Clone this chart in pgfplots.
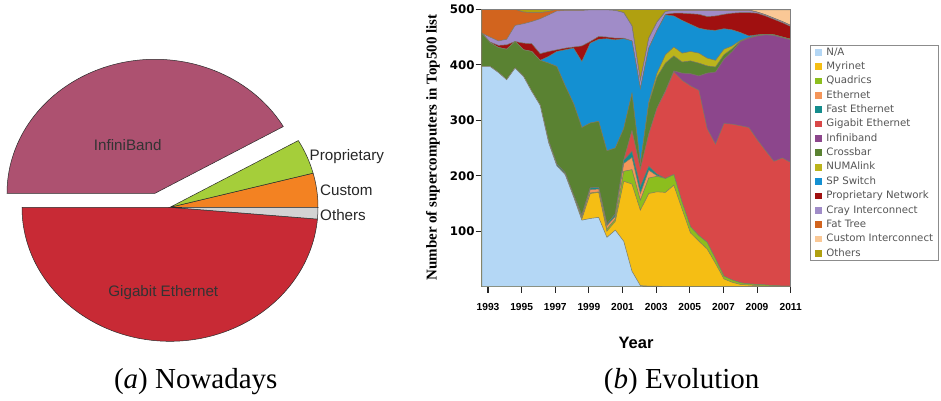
\documentclass[border=0pt]{standalone}
\usepackage{fontspec}
\setsansfont{Liberation Sans}
\newfontfamily\dejavu{DejaVu Sans}
\newfontfamily\tnr{Liberation Serif}
\usepackage{pgfplots}
\usepackage{pgfplotstable}
\pgfplotsset{compat=1.18}

\definecolor{cNA}{HTML}{B4D7F5}
\definecolor{cMyr}{HTML}{F5BE14}
\definecolor{cQuad}{HTML}{8CBE1E}
\definecolor{cEth}{HTML}{F5965A}
\definecolor{cFast}{HTML}{148C8C}
\definecolor{cGig}{HTML}{D94848}
\definecolor{cIB}{HTML}{8C468C}
\definecolor{cCross}{HTML}{5A8232}
\definecolor{cNUMA}{HTML}{BCB41C}
\definecolor{cSP}{HTML}{1490D2}
\definecolor{cProp}{HTML}{A01010}
\definecolor{cCray}{HTML}{A08CC8}
\definecolor{cFat}{HTML}{D2641E}
\definecolor{cCust}{HTML}{FAC896}
\definecolor{cOth}{HTML}{B0A010}
\definecolor{edge}{HTML}{7A7A66}
\definecolor{pIB}{HTML}{AD5170}
\definecolor{pGig}{HTML}{C82A35}
\definecolor{pProp}{HTML}{A5CE3A}
\definecolor{pCust}{HTML}{F38222}
\definecolor{pOth}{HTML}{D3D3D3}
\definecolor{pedge}{HTML}{2A2A2A}
\definecolor{legtxt}{HTML}{555555}

% cumulative tops of the stacked series (bottom to top)
\pgfplotstableread{
x c1 c2 c3 c4 c5 c6 c7 c8 c9 c10 c11 c12 c13 c14 c15
1992.63 397 397 397 397 397 397 397 457 457 457 457 457 500 500 500
1993.12 397 397 397 397 397 397 397 440 440 440 441 450 500 500 500
1993.62 386 386 386 386 386 386 386 431 431 431 435 443 500 500 500
1994.11 373 373 373 373 373 373 373 428 428 428 436 446 500 500 500
1994.61 394 394 394 394 394 394 394 442 442 442 442 471 500 500 500
1995.11 379 379 379 379 379 379 379 427 427 427 439 474 495 495 500
1995.60 352 352 352 352 352 352 352 424 424 424 438 478 494 494 500
1996.10 327 327 327 327 327 327 327 408 408 408 420 483 494 494 500
1996.60 260 260 260 260 263 263 263 403 403 415 424 490 496 496 500
1997.09 218 218 218 218 221 221 221 397 397 424 427 497 500 500 500
1997.59 202 202 202 202 205 205 205 362 362 427 430 498 500 500 500
1998.09 162 162 162 162 165 165 165 330 330 430 432 498 500 500 500
1998.58 120 122 122 126 129 129 129 287 287 406 434 498 500 500 500
1999.08 123 168 169 175 178 178 178 295 295 439 442 499 500 500 500
1999.58 125 170 171 176 179 179 179 298 298 446 451 499 500 500 500
2000.07 89 100 104 110 113 113 113 245 245 447 450 499 500 500 500
2000.57 102 118 122 127 131 131 131 250 250 445 448 498 498 498 500
2001.07 82 190 208 222 228 228 228 285 285 447 448 494 494 494 500
2001.56 28 185 211 233 244 281 281 348 348 443 443 470 470 470 500
2002.06 2 138 156 168 181 212 212 222 222 357 357 372 372 372 500
2002.56 1 168 196 210 217 275 275 330 333 430 430 448 448 448 500
2003.05 1 171 199 200 203 322 322 378 385 462 462 477 477 477 500
2003.55 0 170 195 195 195 352 353 403 418 490 491 496 496 496 500
2004.05 0 183 202 202 202 387 389 416 432 488 493 498 499 499 500
2004.54 0 140 152 152 152 372 385 405 421 480 493 498 499 499 500
2005.04 0 97 108 108 108 362 384 407 424 473 492 498 499 499 500
2005.54 0 82 92 92 92 354 380 403 421 466 491 498 499 499 500
2006.03 0 68 80 80 80 285 385 398 412 463 487 498 499 499 500
2006.53 0 42 50 50 50 257 387 396 408 462 488 498 499 499 500
2007.03 0 14 19 19 19 294 410 418 428 465 491 498 499 499 500
2007.52 0 8 12 12 12 293 424 429 434 463 493 498 499 499 500
2008.02 0 4 7 7 7 290 442 443 444 458 494 498 499 499 500
2008.51 0 3 5 5 5 287 448 449 449 452 494 498 499 499 500
2009.01 0 2 4 4 4 265 452 453 453 454 493 495 495 499 500
2009.51 0 1 3 3 3 245 454 455 455 455 488 490 490 499 500
2010.00 0 0 2 2 2 226 453 454 454 454 482 484 484 499 500
2010.50 0 0 1 1 1 232 449 450 450 450 476 478 478 499 500
2011.00 0 0 1 1 1 224 445 446 446 446 469 471 471 499 500
}\datatable

% pie shares (percent)
\def\pCust{4.1}
\def\pProp{4.2}
\def\pIB{41.7}
\def\pGig{48.6}
\def\pOth{1.4}

\begin{document}
\begin{tikzpicture}
\useasboundingbox (0pt,0pt) rectangle (941pt,400pt);
\pgfmathsetmacro\aA{3.6*\pCust}
\pgfmathsetmacro\aB{\aA+3.6*\pProp}
\pgfmathsetmacro\aC{\aB+3.6*\pIB}
\pgfmathsetmacro\aD{\aC+3.6*\pGig}

% ---------- (a) pie ----------
\begin{axis}[at={(170pt,192.7pt)}, anchor=center, scale only axis,
  width=296pt, height=268pt, xmin=-1, xmax=1, ymin=-1, ymax=1,
  hide axis, clip=false]
\filldraw[fill=pCust, draw=pedge, line width=0.5pt] (axis cs:0,0) -- ++(0:148pt and 134pt)
  arc[start angle=0, end angle=\aA, x radius=148pt, y radius=134pt] -- cycle;
\filldraw[fill=pProp, draw=pedge, line width=0.5pt] (axis cs:0,0) -- ++(\aA:148pt and 134pt)
  arc[start angle=\aA, end angle=\aB, x radius=148pt, y radius=134pt] -- cycle;
\filldraw[fill=pIB, draw=pedge, line width=0.5pt, shift={(-15pt,14pt)}] (axis cs:0,0) -- ++(\aB:148pt and 134pt)
  arc[start angle=\aB, end angle=\aC, x radius=148pt, y radius=134pt] -- cycle;
\filldraw[fill=pGig, draw=pedge, line width=0.5pt] (axis cs:0,0) -- ++(\aC:148pt and 134pt)
  arc[start angle=\aC, end angle=\aD, x radius=148pt, y radius=134pt] -- cycle;
\filldraw[fill=pOth, draw=pedge, line width=0.5pt] (axis cs:0,0) -- ++(\aD:148pt and 134pt)
  arc[start angle=\aD, end angle=360, x radius=148pt, y radius=134pt] -- cycle;
\end{axis}

\begin{scope}[font=\sffamily\fontsize{15.2}{18}\selectfont]
\node[anchor=base, text=black!80, inner sep=0pt] at (127.7pt,249.1pt) {InfiniBand};
\node[anchor=base, text=black!80, inner sep=0pt] at (163.3pt,103.4pt) {Gigabit Ethernet};
\node[anchor=base west, text=black!85, inner sep=0pt] at (309.5pt,239.8pt) {Proprietary};
\node[anchor=base west, text=black!85, inner sep=0pt] at (320pt,204.1pt) {Custom};
\node[anchor=base west, text=black!85, inner sep=0pt] at (320pt,179.8pt) {Others};
\end{scope}

% ---------- (b) stacked areas ----------
\begin{axis}[at={(481.7pt,113.3pt)}, anchor=south west, scale only axis,
  width=309pt, height=277.4pt,
  xmin=1992.625, xmax=2011, ymin=0, ymax=500,
  axis x line*=bottom, axis y line*=left,
  axis line style={draw=black!50, line width=1.2pt, -},
  xtick={1993,1995,...,2011}, ytick={100,200,300,400,500},
  tick align=outside, major tick length=6pt,
  every tick/.style={draw=black!85, line width=1.1pt},
  /pgf/number format/assume math mode=true,
  x tick label style={font=\sffamily\bfseries\fontsize{10.2}{12}\selectfont,
     /pgf/number format/1000 sep={}, inner sep=0pt, anchor=north, yshift=-10.5pt},
  y tick label style={font=\dejavu\bfseries\fontsize{11.8}{13}\selectfont,
     inner sep=0pt, anchor=east, xshift=-1pt},
  after end axis/.code={\draw[black!50, line width=1.2pt] (rel axis cs:0,1) -- (rel axis cs:1,1) -- (rel axis cs:1,0);},
  legend image code/.code={\fill[#1,draw=none] (0pt,-3.35pt) rectangle (6.7pt,3.35pt);},
  reverse legend,
  legend cell align=left,
  legend style={at={(1.0625,0.8713)}, anchor=north west,
     font=\dejavu\fontsize{10.2}{12}\selectfont, text=legtxt,
     draw=black!45, line width=0.6pt, fill=white,
     inner xsep=5pt, inner ysep=2pt, row sep=4.36pt, column sep=4.4pt,
     nodes={inner sep=0pt, text height=7.8pt, text depth=2.2pt}},
]
\addplot[fill=cOth, draw=edge, line width=0.5pt] table[x=x,y=c15]{\datatable} \closedcycle;
\addlegendentry{Others}
\addplot[fill=cCust, draw=edge, line width=0.5pt] table[x=x,y=c14]{\datatable} \closedcycle;
\addlegendentry{Custom Interconnect}
\addplot[fill=cFat, draw=edge, line width=0.5pt] table[x=x,y=c13]{\datatable} \closedcycle;
\addlegendentry{Fat Tree}
\addplot[fill=cCray, draw=edge, line width=0.5pt] table[x=x,y=c12]{\datatable} \closedcycle;
\addlegendentry{Cray Interconnect}
\addplot[fill=cProp, draw=edge, line width=0.5pt] table[x=x,y=c11]{\datatable} \closedcycle;
\addlegendentry{Proprietary Network}
\addplot[fill=cSP, draw=edge, line width=0.5pt] table[x=x,y=c10]{\datatable} \closedcycle;
\addlegendentry{SP Switch}
\addplot[fill=cNUMA, draw=edge, line width=0.5pt] table[x=x,y=c9]{\datatable} \closedcycle;
\addlegendentry{NUMAlink}
\addplot[fill=cCross, draw=edge, line width=0.5pt] table[x=x,y=c8]{\datatable} \closedcycle;
\addlegendentry{Crossbar}
\addplot[fill=cIB, draw=edge, line width=0.5pt] table[x=x,y=c7]{\datatable} \closedcycle;
\addlegendentry{Infiniband}
\addplot[fill=cGig, draw=edge, line width=0.5pt] table[x=x,y=c6]{\datatable} \closedcycle;
\addlegendentry{Gigabit Ethernet}
\addplot[fill=cFast, draw=edge, line width=0.5pt] table[x=x,y=c5]{\datatable} \closedcycle;
\addlegendentry{Fast Ethernet}
\addplot[fill=cEth, draw=edge, line width=0.5pt] table[x=x,y=c4]{\datatable} \closedcycle;
\addlegendentry{Ethernet}
\addplot[fill=cQuad, draw=edge, line width=0.5pt] table[x=x,y=c3]{\datatable} \closedcycle;
\addlegendentry{Quadrics}
\addplot[fill=cMyr, draw=edge, line width=0.5pt] table[x=x,y=c2]{\datatable} \closedcycle;
\addlegendentry{Myrinet}
\addplot[fill=cNA, draw=edge, line width=0.5pt] table[x=x,y=c1]{\datatable} \closedcycle;
\addlegendentry{N/A}
\end{axis}

\node[rotate=90, font=\tnr\bfseries\fontsize{15}{18}\selectfont, inner sep=0pt] at (433pt,252.5pt)
  {Number of supercomputers in Top500 list};
\node[anchor=base, font=\sffamily\bfseries\fontsize{16.5}{20}\selectfont, inner sep=0pt] at (636pt,51.7pt) {Year};

\node[anchor=base, font=\tnr\fontsize{29}{34}\selectfont, inner sep=0pt] at (195.8pt,11.6pt) {(\textit{a}) Nowadays};
\node[anchor=base, font=\tnr\fontsize{29}{34}\selectfont, inner sep=0pt] at (681.7pt,11.8pt) {(\textit{b}) Evolution};
\end{tikzpicture}
\end{document}
